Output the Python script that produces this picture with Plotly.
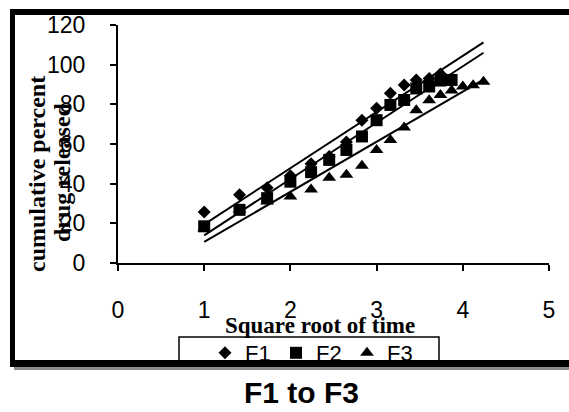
import numpy as np
import plotly.graph_objects as go

# ---- data ----
sqrt_time = [1.00, 1.41, 1.73, 2.00, 2.24, 2.45, 2.65, 2.83, 3.00, 3.16,
             3.32, 3.46, 3.61, 3.74, 3.87, 4.00, 4.12, 4.24]
F1 = [25.7, 34.4, 38.0, 44.0, 50.0, 53.7, 61.0, 72.0, 78.0, 85.6, 89.8, 92.3, 93.0, 95.3]
F2 = [18.5, 26.8, 32.7, 41.0, 45.8, 52.0, 57.0, 63.8, 72.0, 79.7, 82.2, 88.0, 89.0, 92.0, 92.3]
F3 = [17.5, 27.0, 31.0, 33.5, 37.0, 43.0, 44.5, 49.0, 57.0, 62.0, 68.3, 77.0, 82.0, 84.7,
      87.0, 89.0, 89.6, 91.4]
series_names = ["F1", "F2", "F3"]
x_ticks = [0, 1, 2, 3, 4, 5]
y_ticks = [0, 20, 40, 60, 80, 100, 120]

# ---- layout geometry (pixels) ----
W, H = 569, 412
L, R, T, B = 118, 549, 25, 263


def px(xp):
    return (xp - L) / (R - L)


def py(yp):
    return (B - yp) / (B - T)


NARROW = "Liberation Sans Narrow, Arial Narrow, Liberation Sans, sans-serif"
SERIF = "Liberation Serif, Times New Roman, serif"

fig = go.Figure()

symbols = ["diamond", "square", "triangle-up"]
sizes = [10, 12, 12]
all_series = [F1, F2, F3]
xmin, xmax = min(sqrt_time), max(sqrt_time)

# trend lines (least squares fit of each series)
for ys in all_series:
    xs = np.array(sqrt_time[:len(ys)])
    m, c = np.polyfit(xs, np.array(ys), 1)
    lx = np.array([xmin, xmax])
    fig.add_trace(go.Scatter(x=lx, y=m * lx + c, mode="lines",
                             line=dict(color="black", width=2),
                             showlegend=False, hoverinfo="skip"))

for name, ys, sym, sz in zip(series_names, all_series, symbols, sizes):
    fig.add_trace(go.Scatter(x=sqrt_time[:len(ys)], y=ys, mode="markers", name=name,
                             marker=dict(symbol=sym, size=sz, color="black",
                                         line=dict(width=0))))

fig.update_xaxes(range=[0, 5], tickvals=x_ticks, showgrid=False, zeroline=False,
                 showline=True, linecolor="black", linewidth=2,
                 ticks="outside", ticklen=6, tickwidth=2, tickcolor="black",
                 ticklabelstandoff=19,
                 tickfont=dict(family=NARROW, size=23, color="black"))
fig.update_yaxes(range=[0, 120], tickvals=y_ticks, showgrid=False, zeroline=False,
                 showline=True, linecolor="black", linewidth=2,
                 ticks="outside", ticklen=6, tickwidth=2, tickcolor="black",
                 ticklabelstandoff=20,
                 tickfont=dict(family=NARROW, size=23, color="black"))

annotations = [
    dict(text="<b>Square root of time</b>", x=px(320), y=py(325), xref="paper", yref="paper",
         showarrow=False, xanchor="center", yanchor="middle",
         font=dict(family=SERIF, size=23, color="black")),
    dict(text="<b>cumulative percent</b>", x=px(37), y=py(174), xref="paper", yref="paper",
         showarrow=False, textangle=-90, xanchor="center", yanchor="middle",
         font=dict(family=SERIF, size=24, color="black")),
    dict(text="<b>drug released</b>", x=px(62), y=py(172), xref="paper", yref="paper",
         showarrow=False, textangle=-90, xanchor="center", yanchor="middle",
         font=dict(family=SERIF, size=24, color="black")),
    dict(text="<b>F1 to F3</b>", x=px(301), y=py(393), xref="paper", yref="paper",
         showarrow=False, xanchor="center", yanchor="middle",
         font=dict(family="Liberation Sans, Arial, sans-serif", size=30, color="black")),
]

shapes = [
    # legend box
    dict(type="rect", xref="paper", yref="paper", x0=px(179), x1=px(439),
         y0=py(337), y1=py(362), line=dict(color="black", width=1.5),
         fillcolor="white", layer="below"),
    # frame shadow
    dict(type="line", xref="paper", yref="paper", x0=px(14), x1=px(600),
         y0=py(368.5), y1=py(368.5), line=dict(color="#8a8a8a", width=3)),
    # frame
    dict(type="line", xref="paper", yref="paper", x0=px(10), x1=px(600),
         y0=py(12), y1=py(12), line=dict(color="black", width=6)),
    dict(type="line", xref="paper", yref="paper", x0=px(12.5), x1=px(12.5),
         y0=py(9), y1=py(366.5), line=dict(color="black", width=5)),
    dict(type="line", xref="paper", yref="paper", x0=px(10), x1=px(600),
         y0=py(363.5), y1=py(363.5), line=dict(color="black", width=7)),
]

fig.update_layout(
    width=W, height=H,
    margin=dict(l=L, r=W - R, t=T, b=H - B),
    paper_bgcolor="white", plot_bgcolor="white",
    showlegend=True,
    legend=dict(orientation="h", x=px(205), y=py(332), xanchor="left", yanchor="top",
                bgcolor="rgba(0,0,0,0)", borderwidth=0,
                entrywidth=26, entrywidthmode="pixels",
                font=dict(family=NARROW, size=22, color="black")),
    annotations=annotations,
    shapes=shapes,
)

fig.write_html("out.html")
